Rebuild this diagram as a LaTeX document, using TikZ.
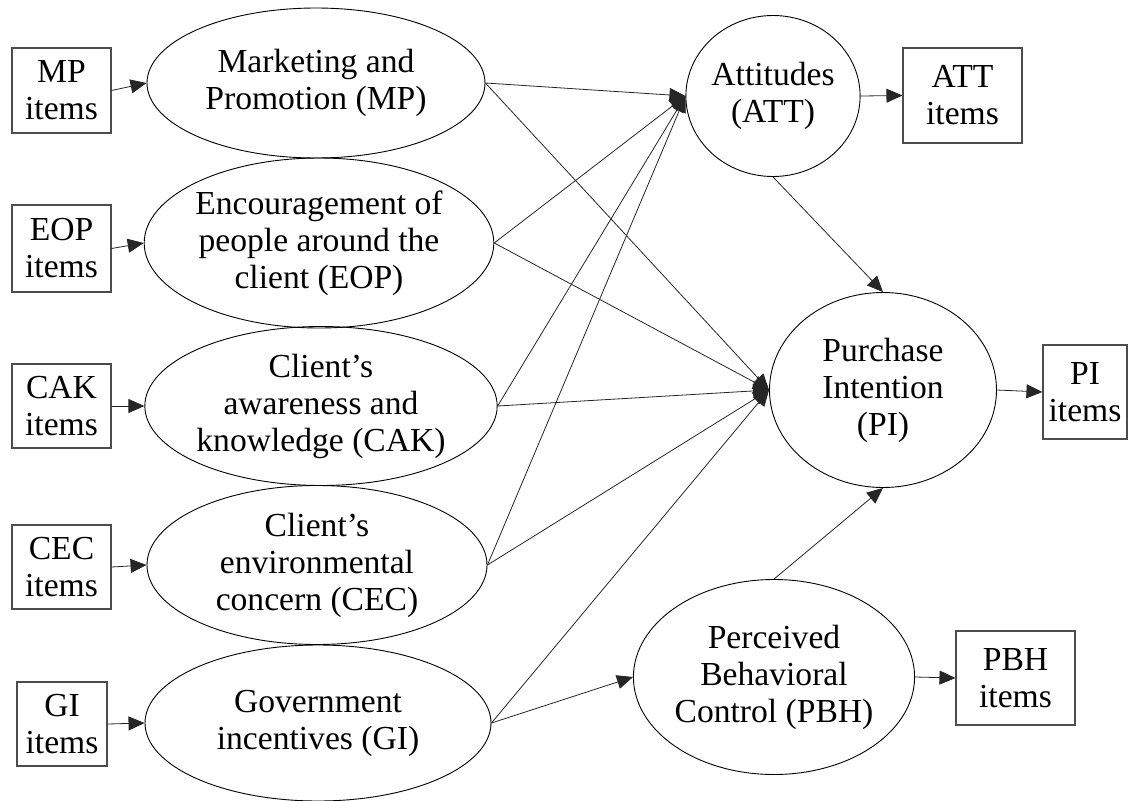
\documentclass[tikz,border=0pt]{standalone}
\usepackage{fontspec}
\setmainfont{Liberation Serif}
\usetikzlibrary{shapes.geometric,arrows.meta}
\begin{document}
\begin{tikzpicture}[x=1pt,y=-1pt,
  every node/.style={font=\fontsize{33.6}{37}\selectfont, align=center, inner sep=0pt},
  latent/.style={ellipse, draw=black, line width=0.9pt},
  itembox/.style={rectangle, draw=black!70, line width=1.1pt},
  link/.style={draw=black!85, line width=0.8pt, -{Triangle[length=16pt,width=14pt]}},
]
\useasboundingbox (0,0) rectangle (1128,801);

% indicator boxes on the left
\node[itembox, minimum width=99pt, minimum height=85pt] (MPi)  at (61.5,90.5) {MP\\items};
\node[itembox, minimum width=99pt, minimum height=87pt] (EOPi) at (61.5,248.5) {EOP\\items};
\node[itembox, minimum width=99pt, minimum height=84pt] (CAKi) at (61.5,406) {CAK\\items};
\node[itembox, minimum width=99pt, minimum height=84pt] (CECi) at (61.5,567) {CEC\\items};
\node[itembox, minimum width=90pt, minimum height=84pt] (GIi)  at (62,724) {GI\\items};

% exogenous constructs
\node[latent, minimum width=338pt, minimum height=150pt] (MP)  at (316,83)  {Marketing and\\Promotion (MP)};
\node[latent, minimum width=338pt, minimum height=170pt] (EOP) at (319,243) {Encouragement of\\people around the\\client (EOP)};
\node[latent, minimum width=338pt, minimum height=159pt] (CAK) at (321,406) {Client’s\\awareness and\\knowledge (CAK)};
\node[latent, minimum width=340pt, minimum height=159pt] (CEC) at (317,565) {Client’s\\environmental\\concern (CEC)};
\node[latent, minimum width=346pt, minimum height=156pt] (GI)  at (318,723) {Government\\incentives (GI)};

% mediators and outcome
\node[latent, minimum width=170pt, minimum height=161pt] (ATT) at (773,96)  {Attitudes\\(ATT)};
\node[latent, minimum width=227pt, minimum height=195pt] (PI)  at (883,390) {Purchase\\Intention\\(PI)};
\node[latent, minimum width=275pt, minimum height=195pt] (PBH) at (774,677) {Perceived\\Behavioral\\Control (PBH)};

% indicator boxes on the right
\node[itembox, minimum width=119pt, minimum height=95pt] (ATTi) at (962.5,95.5) {ATT\\items};
\node[itembox, minimum width=84pt,  minimum height=94pt] (PIi)  at (1085,392) {PI\\items};
\node[itembox, minimum width=119pt, minimum height=94pt] (PBHi) at (1015.5,678) {PBH\\items};

% measurement arrows
\draw[link] (MPi.east)  -- (MP.west);
\draw[link] (EOPi.east) -- (EOP.west);
\draw[link] (CAKi.east) -- (CAK.west);
\draw[link] (CECi.east) -- (CEC.west);
\draw[link] (GIi.east)  -- (GI.west);
\draw[link] (ATT.east)  -- (ATTi.west);
\draw[link] (PI.east)   -- (PIi.west);
\draw[link] (PBH.east)  -- (PBHi.west);

% structural paths
\foreach \src in {MP,EOP,CAK,CEC}
  \draw[link] (\src.east) -- (ATT.west);
\foreach \src in {MP,EOP,CAK,CEC,GI}
  \draw[link] (\src.east) -- (PI.west);
\draw[link] (GI.east)    -- (PBH.west);
\draw[link] (ATT.south)  -- (PI.north);
\draw[link] (PBH.north)  -- (PI.south);
\end{tikzpicture}
\end{document}
